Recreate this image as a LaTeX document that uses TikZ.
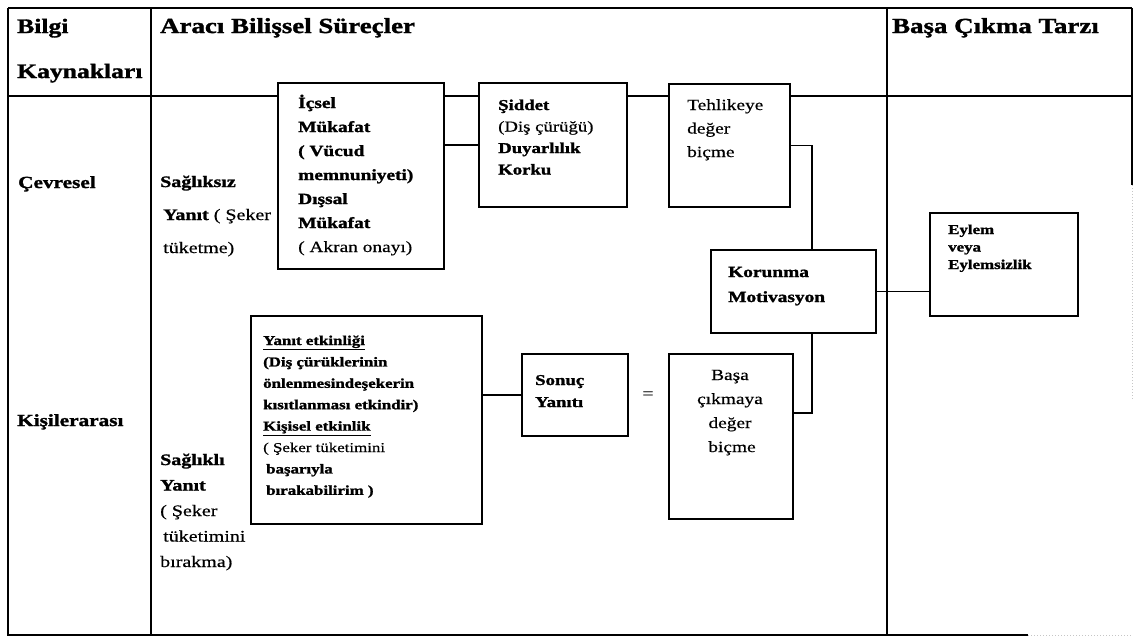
\documentclass[tikz,border=0pt]{standalone}
\usepackage{fontspec}
\setmainfont{Liberation Serif}[FakeStretch=1.25,
  UprightFeatures={FakeBold=0.5}, BoldFeatures={FakeBold=1.5}]
\usetikzlibrary{calc}
\tikzset{
  grid/.style={line width=1.8pt},
  box/.style={draw, line width=2pt, fill=white, inner sep=0pt, anchor=north west},
  conn/.style={line width=1.8pt},
  lbl/.style={anchor=base west, inner sep=0pt},
}
\newcommand\fs[2]{\fontsize{#1}{#2}\selectfont}
% stacked lines whose baseline is the first line
\newcommand\textlines[2][l]{\begin{tabular}[t]{@{}#1@{}}#2\end{tabular}}

\begin{document}
\begin{tikzpicture}[x=1pt,y=-1pt]
\useasboundingbox (0,0) rectangle (1135,638);

% table grid
\draw[grid] (8,8) -- (1132,8);
\draw[grid] (8,96) -- (1132,96);
\draw[grid] (8,8) -- (8,635) -- (1028,635);
\draw[grid] (151,8) -- (151,635);
\draw[grid] (887,8) -- (887,635);
\draw[grid] (1132,8) -- (1132,185);
\draw[gray!45, line width=1pt, dotted] (1132,185) -- (1132,400);
\draw[gray!45, line width=1pt, dotted] (1028,635) -- (1132,635);

% column headers
\node[lbl, font=\bfseries\fs{20.5}{45}] (h1) at (17,33) {\textlines{Bilgi\\Kaynakları}};
\node[lbl, font=\bfseries\fs{21.5}{26}] (h2) at (160,33) {Aracı Bilişsel Süreçler};
\node[lbl, font=\bfseries\fs{21.5}{26}] (h3) at (892,33) {Başa Çıkma Tarzı};

% row labels
\node[lbl, font=\bfseries\fs{17}{20}] (env) at (18,188) {Çevresel};
\node[lbl, font=\bfseries\fs{17}{20}] (inter) at (17,426) {Kişilerarası};
\node[lbl, font=\fs{16}{33}] (unh) at (160,187)
  {\textlines{\textbf{Sağlıksız}\\\hspace*{3pt}\textbf{Yanıt} ( Şeker\\\hspace*{3pt}tüketme)}};
\node[lbl, font=\fs{16}{25.5}] (hea) at (160,465)
  {\textlines{\textbf{Sağlıklı}\\\textbf{Yanıt}\\( Şeker\\\hspace*{3pt}tüketimini\\bırakma)}};

% boxes
\node[box, minimum width=166, minimum height=186] (icsel) at (277,82) {};
\node[box, minimum width=148, minimum height=124] (siddet) at (478,82) {};
\node[box, minimum width=121, minimum height=123] (tehlike) at (668,83) {};
\node[box, minimum width=165, minimum height=83] (korunma) at (710,249) {};
\node[box, minimum width=148, minimum height=103] (eylem) at (929,212) {};
\node[box, minimum width=231, minimum height=208] (yanit) at (250,315) {};
\node[box, minimum width=106, minimum height=82] (sonuc) at (521,353) {};
\node[box, minimum width=124, minimum height=165] (basa) at (668,353) {};

% connectors
\draw[conn] (siddet.west) -- (siddet.west -| icsel.east);
\draw[conn] (tehlike.east) -| ($(korunma.north)+(18.5,0)$);
\draw[conn] ($(korunma.south)+(18.5,0)$) |- ($(basa.north east)+(0,60)$);
\draw[conn] (korunma.east) -- (korunma.east -| eylem.west);
\draw[conn] (sonuc.west) -- (sonuc.west -| yanit.east);

% box texts
\node[lbl, font=\bfseries\fs{15.5}{24}] (t-icsel) at (298,108)
  {\textlines{İçsel\\Mükafat\\( Vücud\\memnuniyeti)\\Dışsal\\Mükafat\\\mdseries ( Akran onayı)}};
\node[lbl, font=\fs{15}{21.5}] (t-siddet) at (498,110)
  {\textlines{\textbf{Şiddet}\\(Diş çürüğü)\\\textbf{Duyarlılık}\\\textbf{Korku}}};
\node[lbl, font=\fs{15.5}{23.5}] (t-tehlike) at (687,110) {\textlines{Tehlikeye\\değer\\biçme}};
\node[lbl, font=\bfseries\fs{15.5}{25}] (t-korunma) at (728,277) {\textlines{Korunma\\Motivasyon}};
\node[lbl, font=\bfseries\fs{13.5}{17.5}] (t-eylem) at (948,234) {\textlines{Eylem\\veya\\Eylemsizlik}};
\node[lbl, font=\bfseries\fs{15}{22}] (t-sonuc) at (535,385) {\textlines{Sonuç\\Yanıtı}};
\node[anchor=base, inner sep=0pt, font=\fs{15.5}{24}] (t-basa) at (730,380)
  {\textlines[c]{Başa\\çıkmaya\\değer\\\hspace*{4pt}biçme}};
\node[lbl, font=\bfseries\fs{13.5}{21.4}] (t-yanit) at (263,345)
  {\textlines{\underline{Yanıt etkinliği}\\(Diş çürüklerinin\\önlenmesindeşekerin\\kısıtlanması etkindir)\\\underline{Kişisel etkinlik}\\\mdseries ( Şeker tüketimini\\\hspace*{3pt}başarıyla\\\hspace*{3pt}bırakabilirim )}};
\node[font=\fs{16}{18}, inner sep=0pt] (eq) at (648,395) {=};
\end{tikzpicture}
\end{document}
